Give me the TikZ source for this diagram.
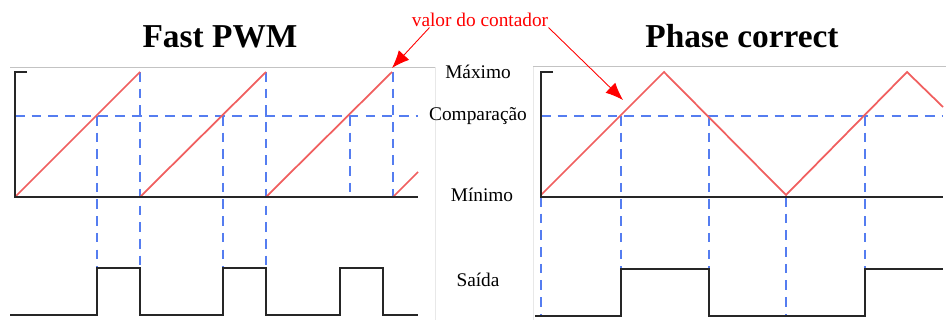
\documentclass[tikz,border=0pt]{standalone}
\usepackage{fontspec}
\setmainfont{Liberation Serif}
\usetikzlibrary{arrows.meta}
\definecolor{rampred}{RGB}{240,95,95}
\definecolor{cmpblue}{RGB}{85,125,240}
\definecolor{framegray}{RGB}{195,195,195}
\definecolor{sidegray}{RGB}{232,232,232}
\tikzset{
  axisline/.style={line width=1.5pt,black!85},
  counter/.style={line width=1pt,rampred},
  cmpline/.style={line width=1.5pt,cmpblue,dash pattern=on 5.5pt off 4pt},
  frameline/.style={line width=0.5pt,framegray},
  sideline/.style={line width=0.5pt,sidegray},
  levelname/.style={anchor=base,font=\fontsize{11}{13}\selectfont},
  plottitle/.style={anchor=base,font=\fontsize{19}{22}\selectfont\bfseries},
  notetext/.style={anchor=base,inner sep=0pt,text=red,font=\fontsize{11}{13}\selectfont},
  pointer/.style={red,line width=0.5pt,-{Latex[length=10pt,width=8pt]}}
}

\begin{document}
\begin{tikzpicture}[x=0.02cm,y=-0.02cm,line join=miter]
  \useasboundingbox (0,0) rectangle (946,320);
  % frames of both plots
  \draw[sideline] (435,67) -- (435,320);
  \draw[sideline] (533,66) -- (533,320);
  \draw[frameline] (10,67) -- (435,67);
  \draw[frameline] (533,66) -- (946,66);

  % titles
  \node[plottitle] (fasttitle) at (220,48) {Fast PWM};
  \node[plottitle] (phasetitle) at (742,48) {Phase correct};

  % level names
  \node[levelname] (maxname) at (478,79) {Máximo};
  \node[levelname] (cmpname) at (478,121) {Comparação};
  \node[levelname] (minname) at (482,202) {Mínimo};
  \node[levelname] (outname) at (478,287) {Saída};

  % fast PWM
  \draw[cmpline] (15,116) -- (418,116);
  \draw[cmpline] (97,116) -- (97,268);
  \draw[cmpline] (140,72) -- (140,268);
  \draw[cmpline] (223,116) -- (223,268);
  \draw[cmpline] (266,72) -- (266,268);
  \draw[cmpline] (350,116) -- (350,197);
  \draw[cmpline] (393,72) -- (393,197);
  \draw[counter] (15,197) -- (140,72) (140,197) -- (266,72)
    (266,197) -- (392,72) (393,197) -- (418,172);
  \draw[axisline] (27,72) -- (15,72) -- (15,197) -- (418,197);
  \draw[axisline] (10,315) -| (97,268) -| (140,315) -| (223,268)
    -| (266,315) -| (340,268) -| (383,315) -- (418,315);

  % phase correct PWM
  \draw[cmpline] (541,116) -- (943,116);
  \draw[cmpline] (541,197) -- (541,315);
  \draw[cmpline] (621,116) -- (621,315);
  \draw[cmpline] (709,116) -- (709,315);
  \draw[cmpline] (786,197) -- (786,315);
  \draw[cmpline] (865,116) -- (865,315);
  \draw[counter] (541,195) -- (664,72) -- (786,195) -- (907,72) -- (943,107);
  \draw[axisline] (553,72) -- (541,72) -- (541,197) -- (943,197);
  \draw[axisline] (535,316) -| (621,269) -| (709,316) -| (865,269) -- (943,269);

  % counter value note
  \node[notetext] (note) at (480,27) {valor do contador};
  \coordinate (fastpeak) at (392,68);
  \coordinate (phaseramp) at (623,100);
  \draw[pointer] ([xshift=0.36cm]note.south west) -- (fastpeak);
  \draw[pointer] (note.south east) -- (phaseramp);
\end{tikzpicture}
\end{document}
